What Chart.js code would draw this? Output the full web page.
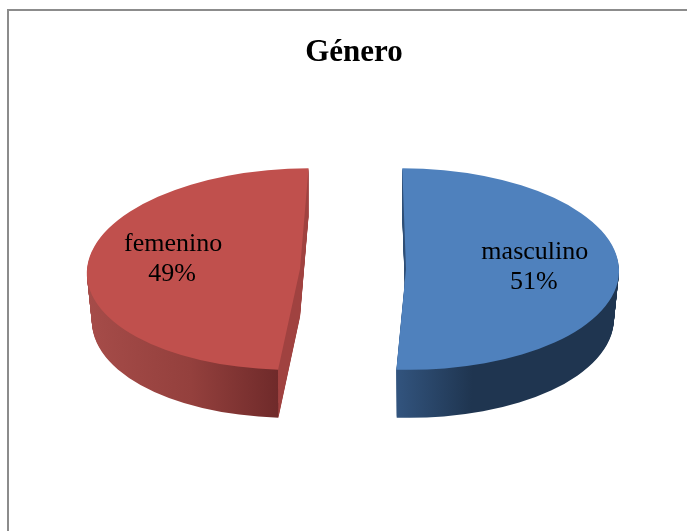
<!DOCTYPE html>
<html>
<head>
<meta charset="utf-8">
<style>
  html, body { margin: 0; padding: 0; background: #fff; overflow: hidden; }
  canvas { display: block; }
</style>
<script src="https://cdn.jsdelivr.net/npm/chart.js@4"></script>
</head>
<body>
<canvas id="generoChart" width="687" height="531"></canvas>
<script>
const categories = ['masculino', 'femenino'];
const values = [51, 49];

const faceColors = ['#4f81bd', '#c0504d'];
const cutColors = ['#1f3a5f', '#a04240'];
// rim colours, left to right
const rimColors = [['#32547e', '#1f3550', '#1f3550'], ['#a64c49', '#94403d', '#6f2a2a']];

// fake 3D look
const tilt = 0.473;
const depth = 48;
const bottomScale = 0.976;
const explode = [52, -54];
const skew = [0.037, -0.085];
const labelShift = [[0.6, -17], [-0.6, -25]];

function sliceTransform(ctx, arc, i, d) {
    const s = 1 - (1 - bottomScale) * d / depth;
    ctx.translate(arc.x + explode[i], arc.y + d);
    ctx.transform(s, 0, skew[i], 1, 0, 0);
    ctx.scale(1, tilt);
    ctx.translate(-arc.x, -arc.y);
}

function rimGradient(ctx, arc, i) {
    const r = arc.outerRadius;
    const x0 = arc.x - r;
    const g = ctx.createLinearGradient(x0, 0, arc.x + r, 0);
    const cols = rimColors[i];
    // x where the slice edge meets the rim, this is where rim and cut face split
    const split = (r * Math.cos(i === 0 ? arc.endAngle : arc.startAngle) + r) / (2 * r);
    if (i === 0) {
        g.addColorStop(0, cols[0]);
        g.addColorStop(split, cols[0]);
        g.addColorStop(split + 0.18, cols[1]);
        g.addColorStop(1, cols[2]);
    } else {
        g.addColorStop(0, cols[0]);
        g.addColorStop(split * 0.55, cols[1]);
        g.addColorStop(split, cols[2]);
        g.addColorStop(split, cutColors[i]);
        g.addColorStop(1, cutColors[i]);
    }
    return g;
}

function paintArc(ctx, arc, fill) {
    const saved = arc.options;
    arc.options = Object.assign({}, saved, { backgroundColor: fill, borderWidth: 0 });
    arc.draw(ctx);
    arc.options = saved;
}

const pie3d = {
    id: 'pie3d',
    beforeDraw(chart) {
        // frame runs off the right and bottom of the picture
        const ctx = chart.ctx;
        ctx.save();
        ctx.strokeStyle = '#8c8c8c';
        ctx.lineWidth = 2;
        ctx.strokeRect(8, 10, 720, 560);
        ctx.restore();
    },
    beforeDatasetsDraw(chart) {
        const ctx = chart.ctx;
        const arcs = chart.getDatasetMeta(0).data;
        arcs.forEach((arc, i) => {
            const rim = rimGradient(ctx, arc, i);
            for (let d = depth; d > 0; d--) {
                ctx.save();
                sliceTransform(ctx, arc, i, d);
                paintArc(ctx, arc, rim);
                ctx.restore();
            }
            ctx.save();
            sliceTransform(ctx, arc, i, 0);
            paintArc(ctx, arc, faceColors[i]);
            ctx.restore();
        });
        return false;
    },
    afterDraw(chart) {
        // the slice labels, afterDatasetsDraw is skipped when the hook above returns false
        const ctx = chart.ctx;
        const arcs = chart.getDatasetMeta(0).data;
        ctx.save();
        ctx.fillStyle = '#000';
        ctx.font = '26px "Liberation Serif"';
        ctx.textAlign = 'center';
        ctx.textBaseline = 'middle';
        arcs.forEach((arc, i) => {
            const x = arc.x + explode[i] + labelShift[i][0] * arc.outerRadius + 1;
            const y = arc.y + labelShift[i][1];
            ctx.fillText(categories[i], x, y);
            ctx.fillText(values[i] + '%', x - 1, y + 30);
        });
        ctx.restore();
    }
};

new Chart(document.getElementById('generoChart'), {
    type: 'pie',
    data: {
        labels: categories,
        datasets: [{
            data: values,
            backgroundColor: faceColors,
            borderWidth: 0
        }]
    },
    options: {
        responsive: false,
        animation: false,
        radius: 213,
        layout: { padding: { left: 21, top: 0, right: 0, bottom: 64 } },
        plugins: {
            legend: { display: false },
            tooltip: { enabled: false },
            title: {
                display: true,
                text: 'Género',
                color: '#000',
                font: { family: '"Liberation Serif"', size: 31, weight: 'bold' },
                padding: { top: 34, bottom: 0 }
            }
        }
    },
    plugins: [pie3d]
});
</script>
</body>
</html>
